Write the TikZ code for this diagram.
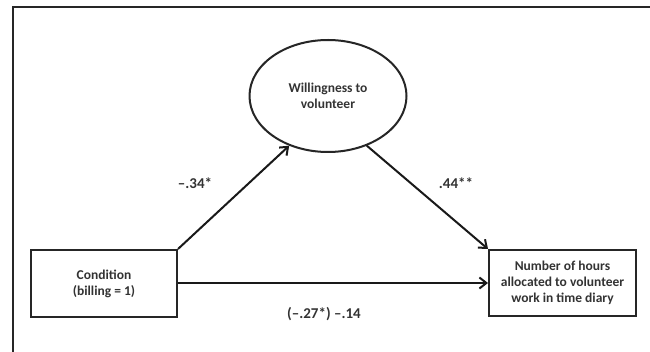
\documentclass[tikz,border=0pt]{standalone}
\usepackage{fontspec}
\setmainfont{Carlito}
\usetikzlibrary{arrows.meta,shapes.geometric}
\begin{document}
\begin{tikzpicture}[x=1pt,y=-1pt,
  line width=2pt,
  boxnode/.style={draw=black!85, rectangle, line width=2pt, inner sep=0pt, align=center,
     font=\fontsize{13.5}{16}\selectfont\bfseries, text=black!80},
  ovalnode/.style={draw=black!85, ellipse, line width=2pt, inner sep=0pt, align=center,
     font=\fontsize{13.5}{16}\selectfont\bfseries, text=black!80},
  coef/.style={font=\fontsize{15}{18}\selectfont\bfseries, text=black!80},
  arr/.style={draw=black!90, line width=2pt, -{Straight Barb[length=7pt,width=11pt,line width=2pt]}}
]
\useasboundingbox (0,0) rectangle (650,352);
\fill[white] (0,0) rectangle (650,352);
\draw[black!85, line width=2pt] (13,352) -- (13,7) -- (650,7);

\node[boxnode, minimum width=146pt, minimum height=67pt] (cond) at (104,283.5) {Condition\\(billing = 1)};
\node[boxnode, minimum width=147pt, minimum height=66pt] (hours) at (562.5,283) {Number of hours\\allocated to volunteer\\work in time diary};
\node[ovalnode, minimum width=157pt, minimum height=112pt] (will) at (328,96) {Willingness to\\volunteer};

\draw[arr] (cond.north east) -- (will.232);
\draw[arr] (will.-52) -- (hours.north west);
\draw[arr] (cond.east |- 0,283) -- (hours.west |- 0,283);

\node[coef] (c1) at (195,183) {–.34*};
\node[coef] (c2) at (456,183) {.44**};
\node[coef] (c3) at (324,314) {(–.27*) –.14};
\end{tikzpicture}
\end{document}
